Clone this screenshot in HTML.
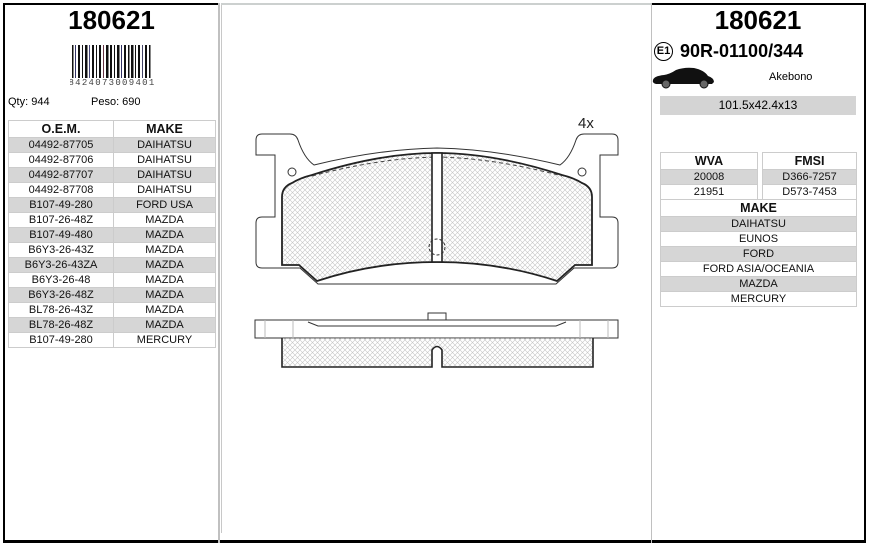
<!DOCTYPE html>
<html><head><meta charset="utf-8"><style>
body{margin:0;width:869px;height:547px;background:#fff;font-family:"Liberation Sans",sans-serif;position:relative;overflow:hidden}
.a{position:absolute}
.t{position:absolute;border-collapse:collapse;font-size:11px;color:#111}
.t td{border:1px solid #ccc;text-align:center;height:14px;padding:0;line-height:14px}
.t tr.g td{background:#d6d6d6}
.t th{border:1px solid #ccc;font-size:12.5px;height:16px;padding:0}
</style></head><body>
<div class="a" style="left:3px;top:3px;width:215px;height:2px;background:#000"></div>
<div class="a" style="left:3px;top:3px;width:2px;height:540px;background:#000"></div>
<div class="a" style="left:3px;top:540px;width:863px;height:3px;background:#000"></div>
<div class="a" style="left:218px;top:3px;width:2px;height:540px;background:#c0c0c0"></div>
<div class="a" style="left:221px;top:3px;width:1px;height:530px;background:#c8c8c8"></div>
<div class="a" style="left:221px;top:3px;width:430px;height:2px;background:#ccd0cf"></div>
<div class="a" style="left:651px;top:3px;width:1px;height:540px;background:#c0c0c0"></div>
<div class="a" style="left:652px;top:3px;width:214px;height:2px;background:#000"></div>
<div class="a" style="left:864px;top:3px;width:2px;height:540px;background:#000"></div>

<div class="a" style="left:5px;width:213px;top:5px;text-align:center;font-weight:bold;font-size:26px">180621</div>
<svg class="a" style="left:70px;top:45px" width="84" height="42">
<g fill="#111">
<rect x="2" y="0" width="1.5" height="33"/><rect x="5" y="0" width="1" height="33" fill="#336"/><rect x="8" y="0" width="2" height="33"/><rect x="12" y="0" width="1" height="33"/><rect x="15" y="0" width="2.5" height="33"/><rect x="19" y="0" width="1" height="33" fill="#447"/><rect x="22" y="0" width="2" height="33"/><rect x="26" y="0" width="1" height="33"/><rect x="29" y="0" width="2" height="33"/><rect x="33" y="0" width="1" height="33" fill="#634"/><rect x="36" y="0" width="2.5" height="33"/><rect x="40" y="0" width="2" height="33"/><rect x="44" y="0" width="1" height="33"/><rect x="47" y="0" width="2.5" height="33"/><rect x="51" y="0" width="1" height="33" fill="#336"/><rect x="54" y="0" width="2" height="33"/><rect x="58" y="0" width="1.5" height="33"/><rect x="61" y="0" width="2.5" height="33"/><rect x="65" y="0" width="1" height="33"/><rect x="68" y="0" width="2" height="33"/><rect x="72" y="0" width="1" height="33" fill="#446"/><rect x="75" y="0" width="2" height="33"/><rect x="79" y="0" width="1.5" height="33"/>
</g>
<text x="42" y="40" font-size="9" text-anchor="middle" fill="#444" letter-spacing="1.3" font-family="Liberation Mono">8424073009401</text>
</svg>
<div class="a" style="left:8px;top:96px;font-size:11px">Qty: 944</div>
<div class="a" style="left:91px;top:96px;font-size:11px">Peso: 690</div>
<table class="t" style="left:8px;top:120px;width:208px">
<tr><th style="width:104px">O.E.M.</th><th>MAKE</th></tr>
<tr class="g"><td>04492-87705</td><td>DAIHATSU</td></tr>
<tr><td>04492-87706</td><td>DAIHATSU</td></tr>
<tr class="g"><td>04492-87707</td><td>DAIHATSU</td></tr>
<tr><td>04492-87708</td><td>DAIHATSU</td></tr>
<tr class="g"><td>B107-49-280</td><td>FORD USA</td></tr>
<tr><td>B107-26-48Z</td><td>MAZDA</td></tr>
<tr class="g"><td>B107-49-480</td><td>MAZDA</td></tr>
<tr><td>B6Y3-26-43Z</td><td>MAZDA</td></tr>
<tr class="g"><td>B6Y3-26-43ZA</td><td>MAZDA</td></tr>
<tr><td>B6Y3-26-48</td><td>MAZDA</td></tr>
<tr class="g"><td>B6Y3-26-48Z</td><td>MAZDA</td></tr>
<tr><td>BL78-26-43Z</td><td>MAZDA</td></tr>
<tr class="g"><td>BL78-26-48Z</td><td>MAZDA</td></tr>
<tr><td>B107-49-280</td><td>MERCURY</td></tr>
</table>

<svg class="a" style="left:0;top:0" width="869" height="547">
<defs><pattern id="h" width="5" height="5" patternUnits="userSpaceOnUse">
<path d="M0 0L5 5M5 0L0 5" stroke="#c4c4c4" stroke-width="0.6"/></pattern></defs>
<text x="578" y="128" font-size="15" fill="#222">4x</text>
<g fill="none" stroke="#333" stroke-width="1">
<path d="M262 134 L290 134 Q296 134 298 140 Q304 158 314 165 Q380 149 437 148 Q494 149 560 165 Q570 158 576 140 Q578 134 584 134 L612 134 Q618 134 618 140 L618 155 L600 155 L600 217 L612 217 Q618 217 618 223 L618 262 Q618 268 612 268 L574 268 L556 284 L318 284 L300 268 L262 268 Q256 268 256 262 L256 223 Q256 217 262 217 L275 217 L275 155 L256 155 L256 140 Q256 134 262 134Z"/>
<circle cx="292" cy="172" r="4"/><circle cx="582" cy="172" r="4"/>
</g>
<path d="M292 183 Q300 178 312 175 Q380 153 437 153 Q494 153 562 175 Q574 178 582 183 Q592 187 592 197 L592 265 L575 265 L557 281 Q500 262 437 262 Q374 262 317 281 L299 265 L282 265 L282 197 Q282 187 292 183Z" fill="url(#h)" stroke="#222" stroke-width="1.8"/>
<path d="M312 176 Q380 158 437 157 Q494 158 562 176" fill="none" stroke="#444" stroke-dasharray="4 3"/>
<rect x="432" y="153" width="10" height="109" fill="#fff" stroke="#222" stroke-width="1.6"/>
<circle cx="437" cy="247" r="8" fill="none" stroke="#333" stroke-dasharray="3 2"/>
<rect x="428" y="313" width="18" height="7" fill="#fff" stroke="#333"/>
<rect x="255" y="320" width="363" height="18" fill="#fff" stroke="#333"/>
<path d="M265 320V338M293 320V338M580 320V338M608 320V338" stroke="#bbb"/>
<path d="M308 322 L318 326 L556 326 L566 322" fill="none" stroke="#333"/>
<path d="M282 338 L282 367 L432 367 L432 350 Q437 343 442 350 L442 367 L593 367 L593 338" fill="url(#h)" stroke="#222" stroke-width="1.6"/>
</svg>

<div class="a" style="left:652px;width:212px;top:5px;text-align:center;font-weight:bold;font-size:26px">180621</div>
<div class="a" style="left:654px;top:42px;width:17px;height:17px;border:1.5px solid #000;border-radius:50%;font-size:11px;font-weight:bold;line-height:17px;text-align:center">E1</div>
<div class="a" style="left:680px;top:41px;font-weight:bold;font-size:18px">90R-01100/344</div>
<svg class="a" style="left:652px;top:66px" width="64" height="24">
<path d="M1 14 Q2 10 12 9 Q18 8 24 4 Q32 1 42 2 Q52 4 56 10 Q62 12 62 16 L60 18 L4 18 Q0 17 1 14Z" fill="#111"/>
<circle cx="14" cy="18" r="4" fill="#666" stroke="#111"/><circle cx="52" cy="18" r="4" fill="#666" stroke="#111"/>
</svg>
<div class="a" style="left:769px;top:71px;font-size:11px">Akebono</div>
<div class="a" style="left:660px;top:96px;width:196px;height:19px;background:#d4d4d4;text-align:center;line-height:19px;font-size:12px">101.5x42.4x13</div>
<table class="t" style="left:660px;top:152px;width:98px">
<tr><th>WVA</th></tr><tr class="g"><td>20008</td></tr><tr><td>21951</td></tr></table>
<table class="t" style="left:762px;top:152px;width:95px">
<tr><th>FMSI</th></tr><tr class="g"><td>D366-7257</td></tr><tr><td>D573-7453</td></tr></table>
<table class="t" style="left:660px;top:199px;width:197px">
<tr><th>MAKE</th></tr>
<tr class="g"><td>DAIHATSU</td></tr><tr><td>EUNOS</td></tr><tr class="g"><td>FORD</td></tr>
<tr><td>FORD ASIA/OCEANIA</td></tr><tr class="g"><td>MAZDA</td></tr><tr><td>MERCURY</td></tr></table>
</body></html>
